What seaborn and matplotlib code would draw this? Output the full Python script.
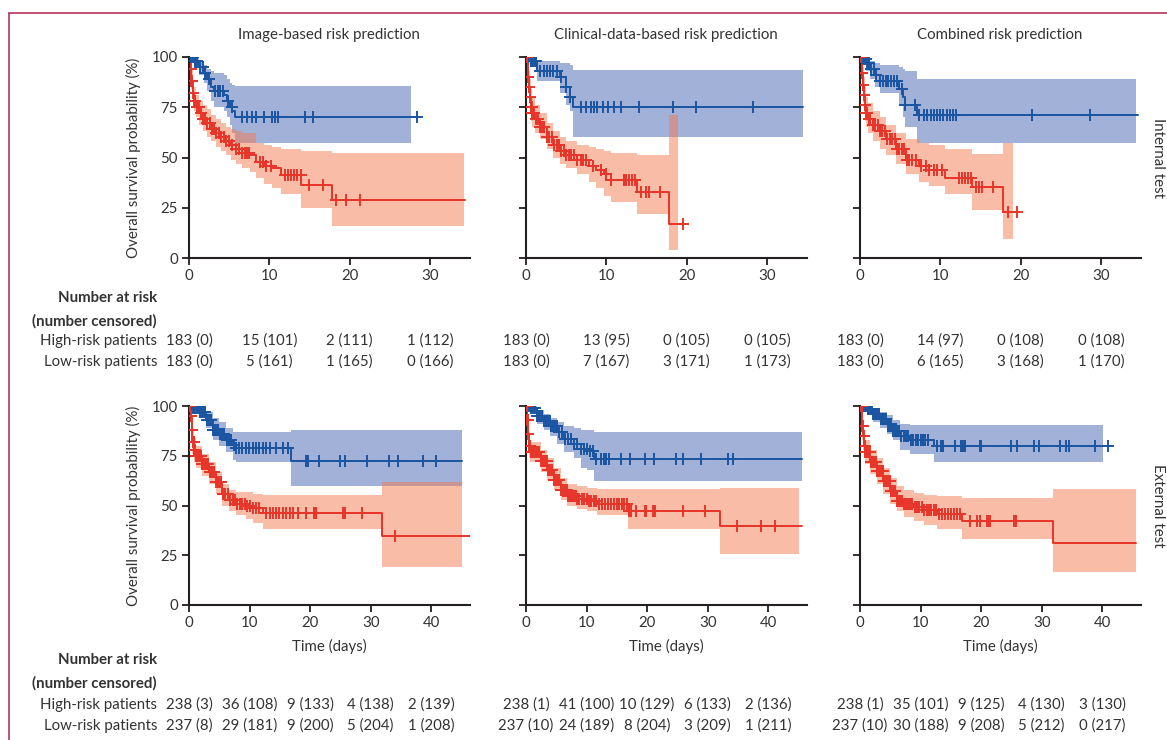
import numpy as np
import matplotlib
matplotlib.use("Agg")
import matplotlib.pyplot as plt
import matplotlib.transforms as mtransforms
from matplotlib.lines import Line2D
import seaborn as sns

# ---------------- text / ticks
titles = ["Image-based risk prediction", "Clinical-data-based risk prediction", "Combined risk prediction"]
row_labels = ["Internal test", "External test"]
top_xticks = [0, 10, 20, 30]
bot_xticks = [0, 10, 20, 30, 40]
y_ticks = [0, 25, 50, 75, 100]

# ---------------- internal test, image-based
p1b_t = [0, 0.6, 1.2, 1.85, 2.3, 2.7, 3.1, 4.4, 4.7, 5.1, 5.4, 5.7]
p1b_s = [100, 98, 95, 92, 89, 85, 83, 81, 78, 75, 73, 70]
p1b_hi = [100, 100, 98, 96, 94, 93, 92, 91, 89, 87, 86, 85.5]
p1b_lo = [100, 96, 91, 87, 83, 78, 75, 73, 70, 66, 62, 57]
p1b_c = [0.3, 0.5, 0.8, 1.0, 1.4, 1.7, 2.0, 2.5, 3.3, 3.6, 3.9, 4.2, 4.9, 5.3,
         6.6, 7.2, 7.8, 8.3, 9.4, 10.3, 10.7, 11.1, 14.4, 15.4, 28.4]
p1b_end = [28.4, 27.7]

p1r_t = [0, 0.15, 0.3, 0.45, 0.6, 0.9, 1.3, 1.8, 2.3, 2.8, 3.4, 4.0, 4.6, 5.2, 5.8, 6.6,
         7.6, 8.4, 9.4, 10.3, 11.5, 14.0, 17.8]
p1r_s = [100, 94, 88, 82, 78, 75, 72, 69, 67, 64, 62, 60, 58, 56, 54, 52, 51, 48, 46, 45,
         41.5, 36.3, 29]
p1r_hi = [100, 98, 94, 89, 85, 81, 78, 76, 74, 71, 69, 67, 65, 64, 63, 62, 62, 57, 56, 55,
          54, 53, 52]
p1r_lo = [100, 91, 84, 78, 73, 70, 66, 63, 60, 58, 55, 53, 51, 49, 47, 45, 43, 40, 37, 35,
          32, 25, 16]
p1r_c = [0.2, 0.3, 0.4, 0.5, 0.6, 0.7, 0.8, 1.0, 1.2, 1.5, 1.8, 2.0, 2.3, 2.6, 2.9, 3.1,
         3.4, 3.7, 4.0, 4.3, 4.6, 5.0, 5.4, 5.8, 6.2, 6.6, 7.0, 7.2, 7.5, 8.8, 9.2, 9.6,
         10.2, 11.9, 12.3, 12.7, 13.1, 13.5, 13.9, 15.0, 16.7, 18.3, 19.5, 21.3]
p1r_end = [34.4, 34.2]

# ---------------- internal test, clinical-data-based
p2b_t = [0, 0.5, 1.35, 4.2, 5.0, 5.45, 5.8]
p2b_s = [100, 98, 93, 90, 85, 80, 75]
p2b_hi = [100, 100, 98, 97, 97, 96, 93.5]
p2b_lo = [100, 95, 88, 82, 76, 73, 60]
p2b_c = [0.3, 0.6, 0.8, 1.0, 1.2, 1.8, 2.2, 2.6, 3.0, 3.4, 3.8, 4.4, 5.0, 5.5,
         6.9, 7.5, 8.1, 8.45, 8.8, 9.55, 10.2, 11.0, 11.8, 14.1, 18.3, 21.2, 28.3]
p2b_end = [34.5, 34.5]

p2r_t = [0, 0.2, 0.33, 0.45, 0.6, 0.75, 1.15, 1.75, 2.6, 3.4, 4.2, 5.0, 6.3, 7.9, 8.7,
         9.75, 10.6, 13.85, 17.75]
p2r_s = [100, 90, 85, 80, 75, 72, 69, 65, 60, 56, 53, 51, 49, 46, 44, 42, 39, 33, 16.7]
p2r_hi = [100, 98, 93, 89, 84, 80, 76, 72, 67, 63, 60, 58, 56, 55, 54, 53, 52, 51, 71]
p2r_lo = [100, 82, 77, 72, 68, 65, 62, 59, 54, 50, 47, 45, 42, 38, 35, 31, 28, 22, 4]
p2r_c = [0.1, 0.2, 0.3, 0.4, 0.5, 0.6, 0.7, 0.8, 0.9, 1.0, 1.3, 1.5, 1.8, 2.0, 2.3, 2.6,
         2.9, 3.2, 3.5, 3.8, 4.1, 4.4, 4.7, 5.0, 5.3, 5.6, 6.0, 6.4, 6.8, 7.1, 7.5, 8.4,
         9.3, 9.95, 10.6, 12.2, 12.5, 12.8, 13.2, 13.6, 14.3, 14.9, 15.3, 16.7, 19.5]
p2r_end = [19.5, 18.9]

# ---------------- internal test, combined
p3b_t = [0, 0.4, 0.8, 1.2, 1.85, 2.45, 4.9, 5.3, 5.6, 7.1]
p3b_s = [100, 99, 97, 94, 91, 88, 84, 80, 76, 71]
p3b_hi = [100, 100, 99, 98, 97, 96, 95, 94, 93, 89]
p3b_lo = [100, 97, 93, 89, 85, 82, 76, 70, 65, 57]
p3b_c = [0.3, 0.5, 0.7, 0.9, 1.1, 1.4, 1.7, 2.0, 2.5, 2.9, 3.2, 3.5, 3.8, 4.2, 4.6,
         5.2, 5.6, 6.8, 7.3, 7.95, 8.4, 8.8, 9.2, 9.6, 10.0, 10.4, 10.8, 11.2, 11.6,
         12.0, 21.4, 28.6]
p3b_end = [34.6, 34.4]

p3r_t = [0, 0.2, 0.33, 0.45, 0.57, 0.7, 1.0, 1.6, 2.45, 3.25, 4.5, 5.7, 7.35, 8.55,
         10.6, 13.9, 17.75]
p3r_s = [100, 92, 86, 81, 76, 72, 69, 66, 63, 59, 54, 49, 46, 44, 40, 35.5, 23]
p3r_hi = [100, 98, 95, 90, 85, 80, 77, 73, 70, 66, 62, 59, 57, 56, 54, 51.5, 57]
p3r_lo = [100, 84, 77, 72, 68, 65, 62, 58, 54, 51, 47, 42, 38, 36, 32, 24, 9.7]
p3r_c = [0.1, 0.2, 0.3, 0.4, 0.5, 0.6, 0.7, 0.8, 0.9, 1.1, 1.3, 1.6, 1.9, 2.2, 2.5,
         2.8, 3.1, 3.4, 3.7, 4.0, 4.3, 4.6, 4.9, 5.2, 5.5, 5.8, 6.1, 6.5, 7.0, 7.6,
         8.2, 8.6, 9.2, 9.6, 10.2, 12.3, 12.7, 13.1, 13.5, 13.8, 14.4, 14.8, 15.2,
         16.6, 18.4, 19.6]
p3r_end = [19.6, 19.0]

# ---------------- external test, image-based
p4b_t = [0, 0.55, 1.65, 2.75, 3.9, 5.0, 6.1, 7.2, 7.7, 16.85]
p4b_s = [100, 99, 97, 93, 88, 86, 83, 80.5, 79, 72.5]
p4b_hi = [100, 100, 99, 97, 94, 92, 89, 87, 87, 88]
p4b_lo = [100, 98, 94, 89, 83, 80, 77, 73, 72, 60]
p4b_c = [0.3, 0.6, 0.9, 1.2, 1.5, 1.8, 2.1, 2.4, 2.7, 3.0, 3.3, 3.6, 3.9, 4.2, 4.5,
         4.8, 5.1, 5.5, 5.8, 6.2, 6.6, 7.0, 7.4, 7.7, 8.3, 8.8, 9.4, 9.9, 10.5, 11.0,
         11.6, 12.2, 12.7, 13.3, 14.4, 15.5, 16.3, 19.3, 19.6, 21.5, 24.9, 25.7,
         29.4, 33.0, 34.5, 38.7, 40.8]
p4b_end = [45.1, 45.1]

p4r_t = [0, 0.28, 0.44, 0.55, 0.83, 1.1, 2.2, 3.3, 4.4, 5.5, 6.6, 7.7, 9.4, 10.5,
         12.15, 31.8]
p4r_s = [100, 95, 88, 82, 78, 75, 71, 67, 62, 56, 53, 51, 50, 48.5, 46, 34.7]
p4r_hi = [100, 99, 95, 89, 84, 80, 76, 72, 67, 61, 58, 57, 57, 56, 55.5, 62]
p4r_lo = [100, 90, 82, 76, 72, 69, 65, 61, 56, 50, 47, 45, 43, 41, 38, 19]
p4r_c = [0.2, 0.3, 0.4, 0.5, 0.6, 0.7, 0.8, 0.9, 1.0, 1.2, 1.4, 1.6, 1.8, 2.0, 2.2,
         2.4, 2.6, 2.8, 3.0, 3.2, 3.4, 3.6, 3.8, 4.0, 4.2, 4.4, 4.6, 4.8, 5.0, 5.3,
         5.6, 6.0, 6.4, 6.8, 7.2, 7.6, 8.0, 8.4, 8.8, 9.2, 9.6, 10.0, 10.5, 11.0,
         11.5, 12.7, 13.3, 13.8, 14.4, 14.9, 15.5, 16.0, 16.6, 17.1, 18.0, 19.3,
         20.7, 21.0, 25.4, 25.7, 28.5, 34.0]
p4r_end = [46.4, 45.1]

# ---------------- external test, clinical-data-based
p5b_t = [0, 0.7, 1.8, 2.9, 4.0, 5.15, 6.25, 7.9, 9.0, 10.1, 11.25]
p5b_s = [100, 99, 95, 92.5, 90, 87, 83.5, 81, 78.5, 77.5, 73.3]
p5b_hi = [100, 100, 98, 96, 94, 92, 90, 89, 88, 88, 86.7]
p5b_lo = [100, 97, 91, 88, 85, 81, 77, 74, 69, 68, 62.5]
p5b_c = [0.3, 0.6, 0.9, 1.2, 1.5, 1.8, 2.1, 2.4, 2.7, 3.0, 3.3, 3.6, 3.9, 4.2, 4.5,
         4.8, 5.1, 5.5, 6.0, 6.5, 7.0, 7.5, 8.0, 8.5, 9.0, 9.5, 10.0, 10.5, 11.0,
         11.5, 12.35, 12.9, 13.2, 13.7, 15.7, 17.1, 19.6, 21.1, 24.8, 25.9, 28.9,
         33.4, 34.1]
p5b_end = [45.6, 45.6]

p5r_t = [0, 0.17, 0.33, 0.5, 0.72, 2.4, 3.5, 4.6, 5.7, 6.8, 8.5, 10.1, 11.8, 16.8, 32.0]
p5r_s = [100, 93, 86, 80, 77, 72.5, 68, 63, 58, 55, 53.3, 52.5, 50.8, 47.2, 39.5]
p5r_hi = [100, 98, 93, 87, 82, 78, 74, 69, 64, 61, 60, 59, 58.5, 58.3, 59]
p5r_lo = [100, 88, 80, 74, 72, 67, 63, 58, 53, 50, 48, 47, 45, 38.3, 25.8]
p5r_c = [0.1, 0.2, 0.3, 0.4, 0.5, 0.6, 0.7, 0.8, 0.9, 1.0, 1.2, 1.4, 1.6, 1.8, 2.0,
         2.2, 2.4, 2.6, 2.8, 3.0, 3.2, 3.4, 3.6, 3.8, 4.0, 4.3, 4.6, 4.9, 5.2, 5.5,
         5.8, 6.1, 6.4, 6.7, 7.0, 7.3, 7.6, 7.9, 8.2, 8.5, 8.8, 9.2, 9.6, 10.0, 10.4,
         10.8, 11.2, 11.6, 12.0, 12.5, 13.0, 13.5, 14.0, 14.5, 15.0, 15.4, 15.8, 16.2,
         16.6, 17.0, 17.3, 18.2, 19.6, 19.8, 20.9, 21.3, 25.9, 29.6, 34.8, 38.8, 41.1]
p5r_end = [45.6, 45.0]

# ---------------- external test, combined
p6b_t = [0, 1.1, 2.2, 3.3, 4.4, 5.5, 6.6, 8.3, 12.2]
p6b_s = [100, 98.3, 95.8, 93.3, 90.8, 87.5, 85, 83, 80]
p6b_hi = [100, 100, 98.5, 97, 95.5, 93, 91, 90.5, 90.5]
p6b_lo = [100, 96, 92, 89, 86, 83, 78, 76, 71.7]
p6b_c = [0.2, 0.4, 0.6, 0.8, 1.0, 1.3, 1.6, 1.9, 2.2, 2.5, 2.8, 3.1, 3.4, 3.7, 4.0,
         4.3, 4.6, 4.9, 5.2, 5.5, 5.8, 6.1, 6.4, 6.8, 7.2, 7.6, 8.0, 8.4, 8.8, 9.2,
         9.6, 10.0, 10.4, 10.8, 11.2, 12.7, 13.3, 13.7, 15.7, 16.6, 17.0, 17.3, 19.8,
         20.0, 24.9, 26.0, 28.7, 29.6, 33.1, 34.0, 34.5, 38.8, 41.0]
p6b_end = [41.4, 40.1]

p6r_t = [0, 0.4, 0.55, 0.72, 0.9, 1.65, 2.75, 3.85, 5.0, 6.1, 7.2, 8.85, 10.5, 12.7,
         16.85, 31.9]
p6r_s = [100, 90, 85, 80, 77, 71.7, 67.5, 62.5, 57.5, 52.5, 50.8, 49.2, 47.8, 45.8,
         42.2, 31.3]
p6r_hi = [100, 97, 93, 88, 83, 78, 74, 69, 64, 60, 58, 56.5, 55.5, 55, 53.8, 58.3]
p6r_lo = [100, 83, 78, 74, 71, 66, 61, 56, 51, 47, 44, 42, 40, 38, 33, 16.7]
p6r_c = [0.2, 0.3, 0.4, 0.5, 0.6, 0.7, 0.8, 0.9, 1.0, 1.2, 1.4, 1.6, 1.8, 2.0, 2.2,
         2.4, 2.6, 2.8, 3.0, 3.2, 3.4, 3.6, 3.8, 4.0, 4.3, 4.6, 4.9, 5.2, 5.5, 5.8,
         6.1, 6.4, 6.7, 7.0, 7.3, 7.6, 7.9, 8.2, 8.6, 9.0, 9.4, 9.8, 10.2, 10.6, 11.0,
         11.4, 11.8, 12.2, 12.6, 13.0, 13.5, 14.0, 14.5, 15.0, 15.5, 16.0, 16.5, 18.1,
         19.3, 19.8, 21.0, 21.3, 21.5, 25.4, 25.7]
p6r_end = [45.6, 45.6]

# ---------------- numbers at risk (number censored)
int_high_risk = [["183 (0)", "15 (101)", "2 (111)", "1 (112)"],
                 ["183 (0)", "13 (95)", "0 (105)", "0 (105)"],
                 ["183 (0)", "14 (97)", "0 (108)", "0 (108)"]]
int_low_risk = [["183 (0)", "5 (161)", "1 (165)", "0 (166)"],
                ["183 (0)", "7 (167)", "3 (171)", "1 (173)"],
                ["183 (0)", "6 (165)", "3 (168)", "1 (170)"]]
ext_high_risk = [["238 (3)", "36 (108)", "9 (133)", "4 (138)", "2 (139)"],
                 ["238 (1)", "41 (100)", "10 (129)", "6 (133)", "2 (136)"],
                 ["238 (1)", "35 (101)", "9 (125)", "4 (130)", "3 (130)"]]
ext_low_risk = [["237 (8)", "29 (181)", "9 (200)", "5 (204)", "1 (208)"],
                ["237 (10)", "24 (189)", "8 (204)", "3 (209)", "1 (211)"],
                ["237 (10)", "30 (188)", "9 (208)", "5 (212)", "0 (217)"]]

BLUE, BLUE_F = "#1a55a2", "#4565b0"
RED, RED_F = "#e8352a", "#f47a4e"
TXT = "#333333"

sns.set_style("ticks")
plt.rcParams["font.family"] = ["Lato", "DejaVu Sans"]
plt.rcParams["font.size"] = 10.5

W, H = 1167, 740
fig = plt.figure(figsize=(W / 100, H / 100), dpi=100)


def km(ax, t, s, lo, hi, cens, ends, line_c, fill_c):
    bt = list(t) + [ends[1]]
    ax.fill_between(bt, list(lo) + [lo[-1]], list(hi) + [hi[-1]], step="post",
                    color=fill_c, alpha=0.5, linewidth=0, zorder=1)
    sns.lineplot(x=list(t) + [ends[0]], y=list(s) + [s[-1]], drawstyle="steps-post",
                 estimator=None, sort=False, color=line_c, linewidth=1.4, ax=ax, zorder=2)
    idx = np.searchsorted(t, cens, side="right") - 1
    sns.scatterplot(x=cens, y=np.array(s)[idx], marker="+", s=70, linewidth=1.4,
                    color=line_c, ax=ax, zorder=3)


curves = [
    [(p1b_t, p1b_s, p1b_lo, p1b_hi, p1b_c, p1b_end), (p1r_t, p1r_s, p1r_lo, p1r_hi, p1r_c, p1r_end)],
    [(p2b_t, p2b_s, p2b_lo, p2b_hi, p2b_c, p2b_end), (p2r_t, p2r_s, p2r_lo, p2r_hi, p2r_c, p2r_end)],
    [(p3b_t, p3b_s, p3b_lo, p3b_hi, p3b_c, p3b_end), (p3r_t, p3r_s, p3r_lo, p3r_hi, p3r_c, p3r_end)],
    [(p4b_t, p4b_s, p4b_lo, p4b_hi, p4b_c, p4b_end), (p4r_t, p4r_s, p4r_lo, p4r_hi, p4r_c, p4r_end)],
    [(p5b_t, p5b_s, p5b_lo, p5b_hi, p5b_c, p5b_end), (p5r_t, p5r_s, p5r_lo, p5r_hi, p5r_c, p5r_end)],
    [(p6b_t, p6b_s, p6b_lo, p6b_hi, p6b_c, p6b_end), (p6r_t, p6r_s, p6r_lo, p6r_hi, p6r_c, p6r_end)],
]

lefts = [189, 526, 860]
axes = []
for row in range(2):
    top, bot = (57, 258) if row == 0 else (406, 605)
    for col in range(3):
        ax = fig.add_axes([lefts[col] / W, 1 - bot / H, 281 / W, (bot - top) / H])
        b, r = curves[row * 3 + col]
        km(ax, *b, BLUE, BLUE_F)
        km(ax, *r, RED, RED_F)
        ax.set_ylim(0, 100)
        ax.set_yticks(y_ticks)
        if row == 0:
            ax.set_xlim(0, 35)
            ax.set_xticks(top_xticks)
            ax.set_xlabel("")
        else:
            ax.set_xlim(0, 46.4)
            ax.set_xticks(bot_xticks)
            ax.set_xlabel("Time (days)", fontsize=10.8, color=TXT, labelpad=6)
        if col > 0:
            ax.set_yticklabels([])
        ax.set_ylabel("")
        sns.despine(ax=ax)
        for sp in ["left", "bottom"]:
            ax.spines[sp].set_linewidth(1.5)
            ax.spines[sp].set_color("#231f20")
        ax.tick_params(length=5, width=1.3, color="#231f20", labelcolor=TXT, labelsize=10.8, pad=3)
        axes.append(ax)

# titles and side labels
for col in range(3):
    fig.text((lefts[col] + 140) / W, 1 - 35 / H, titles[col], ha="center", va="center",
             fontsize=10.8, color=TXT)
for row, (top, bot) in enumerate([(57, 258), (406, 605)]):
    fig.text(133 / W, 1 - (top + bot) / 2 / H, "Overall survival probability (%)", rotation=90,
             ha="center", va="center", fontsize=10.8, color=TXT)
    fig.text(1158 / W, 1 - (top + bot) / 2 / H, row_labels[row], rotation=270,
             ha="center", va="center", fontsize=10.8, color=TXT)

# numbers at risk tables
tables = [(int_high_risk, int_low_risk, top_xticks, [298, 321, 341, 362]),
          (ext_high_risk, ext_low_risk, bot_xticks, [660, 683, 705, 726])]
for row, (hi_rows, lo_rows, ticks, ys) in enumerate(tables):
    fig.text(157 / W, 1 - ys[0] / H, "Number at risk", ha="right", va="center",
             fontsize=10.8, fontweight="bold", color=TXT)
    fig.text(157 / W, 1 - ys[1] / H, "(number censored)", ha="right", va="center",
             fontsize=10.8, fontweight="bold", color=TXT)
    fig.text(157 / W, 1 - ys[2] / H, "High-risk patients", ha="right", va="center",
             fontsize=10.8, color=TXT)
    fig.text(157 / W, 1 - ys[3] / H, "Low-risk patients", ha="right", va="center",
             fontsize=10.8, color=TXT)
    for col in range(3):
        ax = axes[row * 3 + col]
        tr = mtransforms.blended_transform_factory(ax.transData, fig.transFigure)
        for k, tk in enumerate(ticks):
            ax.text(tk, 1 - ys[2] / H, hi_rows[col][k], transform=tr, ha="center",
                    va="center", fontsize=10.8, color=TXT)
            ax.text(tk, 1 - ys[3] / H, lo_rows[col][k], transform=tr, ha="center",
                    va="center", fontsize=10.8, color=TXT)

# page frame
fig.add_artist(Line2D([9 / W, 9 / W], [0, 1 - 13 / H], transform=fig.transFigure,
                      color="#b8325a", linewidth=1.2))
fig.add_artist(Line2D([9 / W, 1], [1 - 13 / H, 1 - 13 / H], transform=fig.transFigure,
                      color="#b8325a", linewidth=1.2))

fig.savefig("out.png", dpi=100)
